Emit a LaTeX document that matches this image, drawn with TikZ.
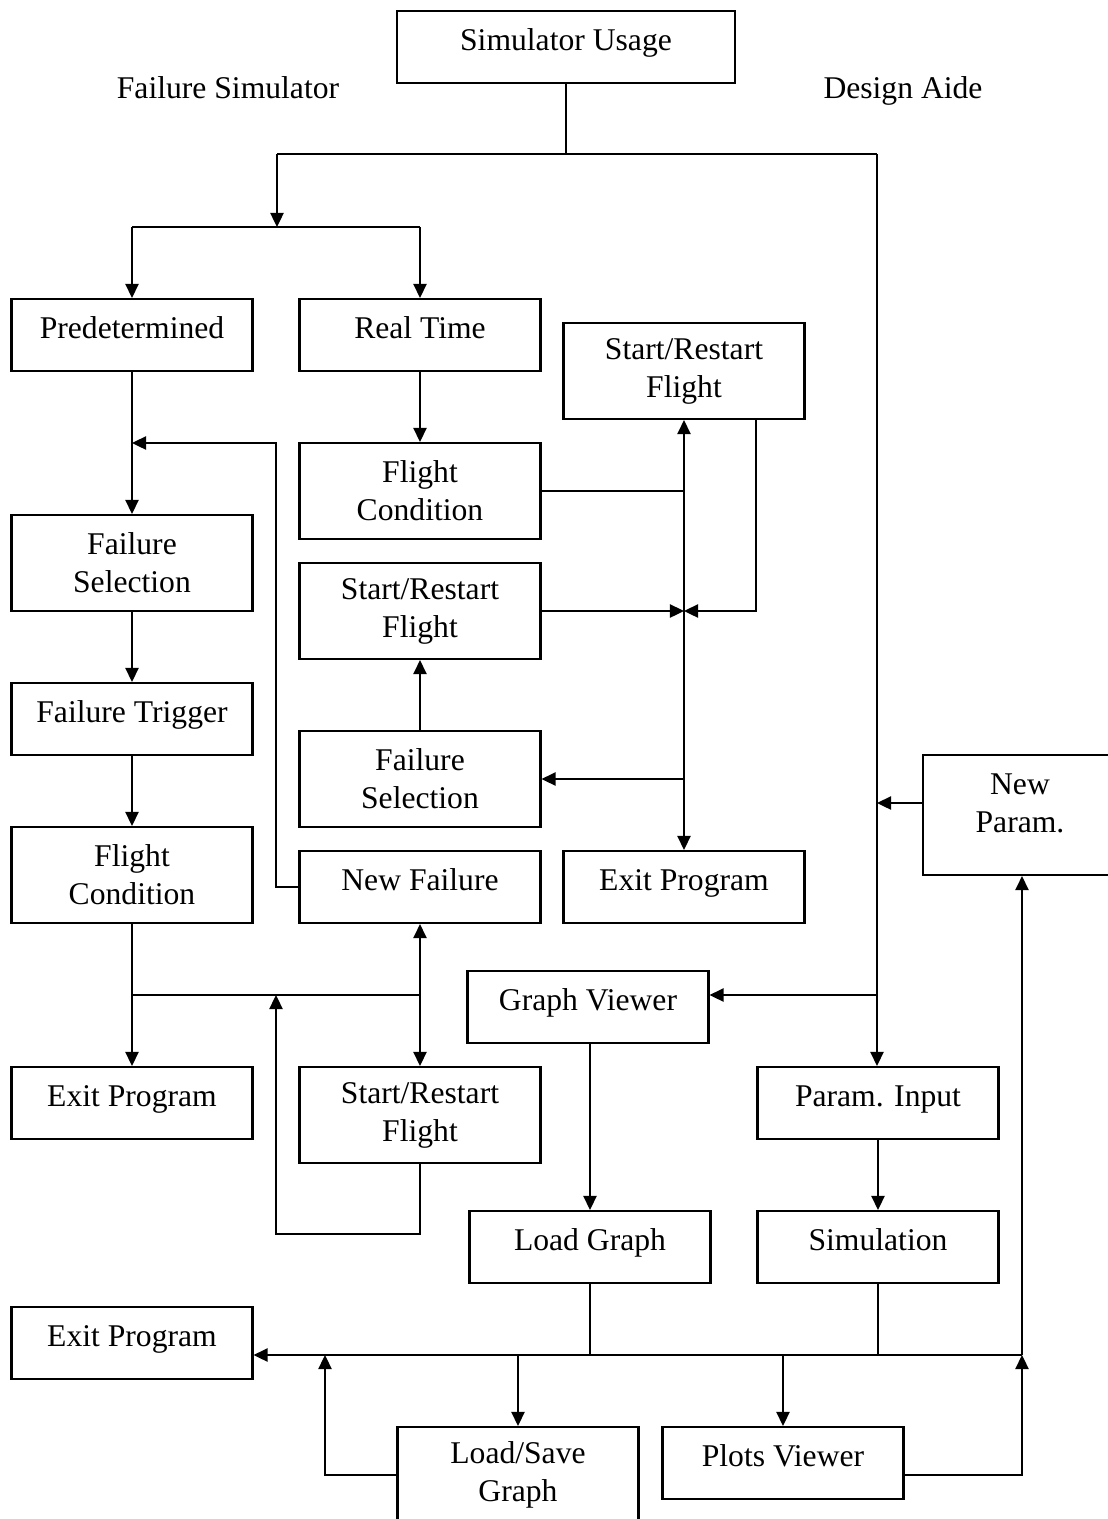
\documentclass[tikz,border=0pt]{standalone}
\usepackage{fontspec}
\setmainfont{Liberation Serif}
\usetikzlibrary{arrows.meta}
\begin{document}
\begin{tikzpicture}[x=0.02cm,y=-0.02cm,
  txt/.style={font=\fontsize{18pt}{21.6pt}\selectfont},
  one/.style={text height=12pt, text depth=8pt},
  box/.style={txt, draw, line width=1.2pt, minimum width=4.82cm,
    minimum height=1.44cm, align=center, inner sep=0pt},
  single/.style={box, one},
  tall/.style={minimum height=1.92cm},
  conn/.style={line width=1.1pt},
  arr/.style={conn, -{Triangle[length=8pt,width=7.5pt]}},
  darr/.style={conn, {Triangle[length=8pt,width=7.5pt]}-{Triangle[length=8pt,width=7.5pt]}}]
\useasboundingbox (0,0) rectangle (1107,1519);

% top
\node[single, minimum width=6.76cm] (use) at (566,47) {Simulator Usage};
\node[txt, one] (fslbl) at (228,95) {Failure Simulator};
\node[txt, one] (dalbl) at (903,95) {Design Aide};

% failure simulator: predetermined branch
\node[single] (pre)   at (132,335) {Predetermined};
\node[box, tall] (fsel1) at (132,563) {Failure\\Selection};
\node[single] (ft)    at (132,719) {Failure Trigger};
\node[box, tall] (fc2) at (132,875) {Flight\\Condition};
\node[single] (exit2) at (132,1103) {Exit Program};

% failure simulator: real time branch
\node[single] (rt)    at (420,335) {Real Time};
\node[box, tall] (fc1)   at (420,491) {Flight\\Condition};
\node[box, tall] (ssr2)  at (420,611) {Start/Restart\\Flight};
\node[box, tall] (fsel2) at (420,779) {Failure\\Selection};
\node[single] (nf)    at (420,887) {New Failure};
\node[box, tall] (ssr3)  at (420,1115) {Start/Restart\\Flight};
\node[box, tall] (ssr1)  at (684,371) {Start/Restart\\Flight};
\node[single] (exit1) at (684,887) {Exit Program};

% design aide
\node[box, minimum width=3.88cm, minimum height=2.4cm] (np) at (1020,815) {};
\node[txt, align=center, yshift=0.24cm] (nptxt) at (np.center) {New\\Param.};
\node[single] (gv)  at (588,1007) {Graph Viewer};
\node[single] (pi)  at (878,1103) {Param. Input};
\node[single] (lg)  at (590,1247) {Load Graph};
\node[single] (sim) at (878,1247) {Simulation};
\node[single] (exit3) at (132,1343) {Exit Program};
\node[box, tall] (lsg) at (518,1475) {Load/Save\\Graph};
\node[single] (pv)  at (783,1463) {Plots Viewer};

% junction points
\coordinate (j0)  at (566,154);
\coordinate (jl)  at (277,154);
\coordinate (jr)  at (877,154);
\coordinate (jl2) at (277,227);
\coordinate (jA)  at (684,491);
\coordinate (jB)  at (684,611);
\coordinate (jC)  at (684,779);
\coordinate (jD)  at (877,803);
\coordinate (jE)  at (877,995);
\coordinate (jF)  at (132,995);
\coordinate (jG)  at (420,995);
\coordinate (jH)  at (276,995);
\coordinate (jI)  at (132,443);
\coordinate (bus) at (1022,1355);

% top split
\draw[conn] (use.south) -- (j0);
\draw[conn] (jl) -- (jr);
\draw[arr] (jl) -- (jl2);
\draw[conn] (pre.north |- jl2) -- (rt.north |- jl2);
\draw[arr] (pre.north |- jl2) -- (pre.north);
\draw[arr] (rt.north |- jl2) -- (rt.north);
\draw[arr] (jr) -- (jr |- pi.north);

% predetermined chain
\draw[arr] (pre.south) -- (fsel1.north);
\draw[arr] (fsel1) -- (ft);
\draw[arr] (ft) -- (fc2);
\draw[arr] (nf.west) -| (276,443) -- (jI);
\draw[conn] (fc2.south) -- (jF) -- (jG);
\draw[arr] (jF) -- (exit2.north);
\draw[darr] (nf.south) -- (ssr3.north);
\draw[arr] (ssr3.south) |- (276,1234) -- (jH);

% real time chain
\draw[arr] (rt) -- (fc1);
\draw[conn] (fc1.east) -- (jA);
\draw[darr] (ssr1.south -| jA) -- (exit1.north);
\draw[arr] (ssr2.east) -- (jB);
\draw[arr] (ssr1.south -| 756,0) |- (jB);
\draw[arr] (jC) -- (fsel2.east);
\draw[arr] (fsel2) -- (ssr2);

% design aide chain
\draw[arr] (np.west |- jD) -- (jD);
\draw[arr] (jE) -- (gv.east |- jE);
\draw[arr] (gv.south -| lg.north) -- (lg.north);
\draw[arr] (pi) -- (sim);
\draw[conn] (lg.south) -- (lg.south |- bus);
\draw[conn] (sim.south) -- (sim.south |- bus);
\draw[arr] (bus) -- (bus -| exit3.east);
\draw[arr] (lsg.north |- bus) -- (lsg.north);
\draw[arr] (pv.north |- bus) -- (pv.north);
\draw[arr] (lsg.west) -| (325,1355);
\draw[arr] (pv.east |- lsg.west) -| (bus);
\draw[arr] (bus) -- (bus |- np.south);
\end{tikzpicture}
\end{document}
